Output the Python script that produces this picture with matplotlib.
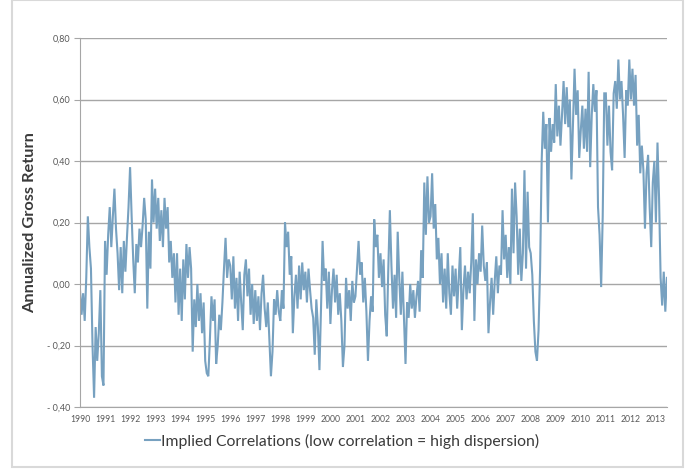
import matplotlib
matplotlib.use("Agg")
import matplotlib.pyplot as plt
from matplotlib.patches import Rectangle

# implied correlation index, sampled 16 times a year from Jan 1990
start_year = 1990
per_year = 16
corr = [
    -0.02, -0.10, -0.03, -0.12, 0.02, 0.22, 0.12, 0.05, -0.20, -0.37, -0.14, -0.25, -0.16, -0.02, -0.30, -0.33,  # 1990
    0.14, 0.03, 0.16, 0.25, 0.12, 0.22, 0.31, 0.18, 0.10, -0.02, 0.12, -0.03, 0.14, 0.04, 0.15, 0.25,  # 1991
    0.38, 0.22, 0.08, -0.03, 0.13, 0.07, 0.18, 0.12, 0.19, 0.28, 0.21, -0.08, 0.17, 0.05, 0.34, 0.20,  # 1992
    0.31, 0.18, 0.28, 0.14, 0.24, 0.12, 0.28, 0.18, 0.25, 0.07, 0.14, 0.02, 0.10, -0.06, 0.10, -0.10,  # 1993
    0.05, -0.12, 0.08, -0.05, 0.13, 0.02, 0.12, 0.05, -0.22, -0.05, -0.14, 0.00, -0.12, -0.03, -0.16, -0.06,  # 1994
    -0.25, -0.29, -0.30, -0.18, -0.04, -0.12, -0.05, -0.26, -0.20, -0.10, -0.15, -0.06, 0.05, 0.15, 0.02, 0.08,  # 1995
    0.06, -0.05, 0.09, -0.08, 0.02, -0.12, 0.04, -0.06, -0.15, 0.03, 0.08, -0.04, 0.05, -0.10, 0.00, -0.13,  # 1996
    -0.02, -0.12, -0.04, -0.15, -0.03, 0.03, -0.08, -0.14, -0.06, -0.18, -0.30, -0.22, -0.05, -0.10, -0.02, -0.09,  # 1997
    -0.12, -0.02, -0.08, 0.20, 0.12, 0.17, 0.03, 0.09, -0.16, -0.04, 0.03, -0.08, 0.06, -0.05, 0.07, -0.02,  # 1998
    0.04, -0.06, 0.05, -0.02, -0.08, -0.11, -0.23, -0.05, -0.14, -0.28, -0.08, 0.14, 0.01, 0.05, -0.08, 0.04,  # 1999
    -0.13, -0.02, 0.05, -0.06, 0.03, -0.10, -0.03, -0.12, -0.27, -0.20, 0.02, -0.08, -0.02, -0.12, 0.01, -0.06,  # 2000
    -0.04, 0.05, 0.14, 0.03, 0.07, -0.06, 0.02, -0.09, -0.25, -0.12, -0.04, -0.09, 0.21, 0.12, 0.16, 0.02,  # 2001
    0.10, -0.01, 0.08, -0.10, -0.17, 0.05, 0.24, 0.06, -0.08, 0.03, -0.11, 0.17, 0.02, -0.10, 0.04, -0.11,  # 2002
    -0.26, -0.06, -0.11, 0.00, -0.08, -0.02, -0.11, -0.04, 0.01, -0.09, 0.11, 0.02, 0.33, 0.16, 0.35, 0.20,  # 2003
    0.22, 0.36, 0.18, 0.26, 0.08, 0.15, 0.00, 0.10, -0.06, 0.05, -0.08, 0.10, -0.03, -0.10, 0.06, -0.04,  # 2004
    0.05, -0.08, 0.02, 0.12, -0.15, -0.02, 0.06, -0.05, 0.04, -0.03, 0.07, 0.23, -0.12, 0.08, 0.00, 0.10,  # 2005
    0.04, 0.19, 0.06, 0.01, 0.07, -0.16, -0.06, 0.02, -0.10, 0.01, 0.09, -0.03, 0.06, 0.03, 0.24, 0.08,  # 2006
    0.16, 0.02, 0.12, 0.00, 0.31, 0.10, 0.33, 0.22, 0.03, 0.18, 0.01, 0.10, 0.37, 0.05, 0.30, 0.12,  # 2007
    0.10, 0.03, -0.12, -0.22, -0.25, -0.15, 0.05, 0.40, 0.56, 0.44, 0.52, 0.20, 0.54, 0.43, 0.52, 0.46,  # 2008
    0.65, 0.48, 0.58, 0.45, 0.55, 0.66, 0.52, 0.64, 0.51, 0.60, 0.34, 0.52, 0.70, 0.55, 0.63, 0.41,  # 2009
    0.50, 0.58, 0.44, 0.57, 0.43, 0.69, 0.38, 0.55, 0.65, 0.56, 0.63, 0.25, 0.16, -0.01, 0.22, 0.62,  # 2010
    0.62, 0.45, 0.58, 0.43, 0.37, 0.62, 0.66, 0.57, 0.73, 0.60, 0.66, 0.55, 0.41, 0.63, 0.58, 0.73,  # 2011
    0.60, 0.70, 0.58, 0.68, 0.45, 0.55, 0.36, 0.45, 0.37, 0.18, 0.36, 0.42, 0.25, 0.12, 0.33, 0.40,  # 2012
    0.20, 0.46, 0.28, 0.02, -0.07, 0.04, -0.09, 0.02,  # 2013
]
years = [start_year + i / per_year for i in range(len(corr))]

year_ticks = list(range(1990, 2014))
y_ticks = [-0.4, -0.2, 0.0, 0.2, 0.4, 0.6, 0.8]
y_labels = ["- 0,40", "- 0,20", "0,00", "0,20", "0,40", "0,60", "0,80"]

line_color = "#77a1c0"
grid_color = "#a6a6a6"
text_color = "#3a3a3a"

plt.rcParams["font.family"] = ["Lato", "DejaVu Sans"]

fig = plt.figure(figsize=(6.88, 4.71), dpi=100)
ax = fig.add_axes([80 / 688, 1 - 407 / 471, 587 / 688, 369 / 471])

ax.plot(years, corr, color=line_color, lw=1.5, solid_joinstyle="miter",
        label="Implied Correlations (low correlation = high dispersion)")

ax.set_xlim(1990, 1990 + 587 / 25.04)
ax.set_ylim(-0.4, 0.8)
ax.set_yticks(y_ticks)
ax.set_yticklabels(y_labels)
ax.set_xticks(year_ticks)
ax.set_xticklabels([str(y) for y in year_ticks])
ax.tick_params(axis="y", labelsize=6.5, colors="#595959", length=4, color=grid_color, pad=3)
ax.tick_params(axis="x", labelsize=6.2, colors="#595959", length=0, pad=6)

ax.grid(axis="y", color=grid_color, lw=1)
ax.set_axisbelow(True)
for side in ["top", "right"]:
    ax.spines[side].set_visible(False)
for side in ["left", "bottom"]:
    ax.spines[side].set_color(grid_color)

ax.set_ylabel("Annualized Gross Return", fontsize=11.8, fontweight="bold",
              color=text_color, labelpad=7)

leg = fig.legend(loc="center", bbox_to_anchor=(0.497, 1 - 441 / 471), frameon=False,
                 fontsize=11.3, handlelength=1.0, handletextpad=0.05)
for t in leg.get_texts():
    t.set_color(text_color)

# light frame round the chart area
fig.patches.append(Rectangle((12 / 688, 4 / 471), 671 / 688, 467 / 471, transform=fig.transFigure,
                             fill=False, edgecolor="#d9d9d9", lw=1.5))

fig.savefig("out.png", dpi=100)
